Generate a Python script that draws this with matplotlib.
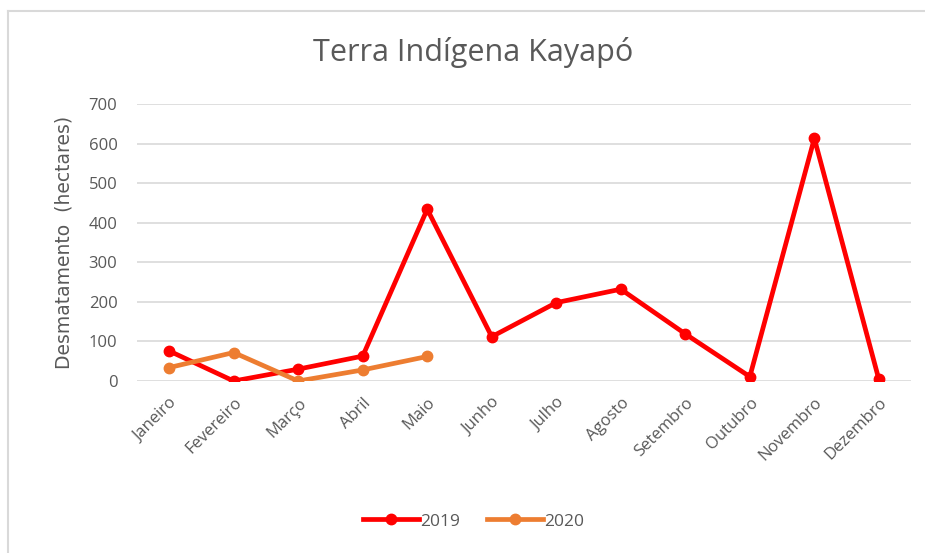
import matplotlib.pyplot as plt
from matplotlib.lines import Line2D

meses = ['Janeiro', 'Fevereiro', 'Março', 'Abril', 'Maio', 'Junho', 'Julho',
         'Agosto', 'Setembro', 'Outubro', 'Novembro', 'Dezembro']
valores_2019 = [76, 0, 30, 63, 434, 112, 198, 232, 119, 11, 613, 4]
valores_2020 = [34, 72, 0, 28, 62]

cinza = '#595959'
plt.rcParams['font.family'] = ['Open Sans', 'DejaVu Sans']

fig = plt.figure(figsize=(9.25, 5.53), dpi=100)
ax = fig.add_axes([0.148, 0.311, 0.837, 0.501])

x19 = list(range(len(valores_2019)))
x20 = list(range(len(valores_2020)))
ax.plot(x19, valores_2019, color='#FF0000', lw=3.4, marker='o', ms=7.5,
        label='2019', solid_joinstyle='round', zorder=3)
ax.plot(x20, valores_2020, color='#ED7D31', lw=3.4, marker='o', ms=7.5,
        label='2020', solid_joinstyle='round', zorder=4)

ax.set_xlim(-0.5, len(meses) - 0.5)
ax.set_ylim(0, 700)
ax.set_yticks(range(0, 701, 100))
ax.set_xticks(x19)
ax.set_xticklabels(meses, rotation=45, ha='right', rotation_mode='anchor')
ax.tick_params(axis='both', length=0, colors=cinza, labelsize=12)
ax.tick_params(axis='x', pad=10)
ax.tick_params(axis='y', pad=14)
ax.grid(axis='y', color='#D9D9D9', lw=1.2)
ax.set_axisbelow(True)
for s in ax.spines.values():
    s.set_visible(False)

ax.set_ylabel('Desmatamento  (hectares)', color=cinza, fontsize=13.5, labelpad=11,
              family='DejaVu Sans')
fig.text(0.511, 0.905, 'Terra Indígena Kayapó', ha='center', va='center',
         fontsize=22, color=cinza)

leg = fig.legend(loc='center', bbox_to_anchor=(0.512, 0.057), ncol=2, frameon=False,
                 fontsize=12.5, handlelength=3.2, columnspacing=1.6, handletextpad=0.05)
for t in leg.get_texts():
    t.set_color(cinza)

# borda do gráfico
fig.add_artist(Line2D([0.0085, 0.0085], [0, 1 - 11 / 553], color='#D9D9D9', lw=1.5))
fig.add_artist(Line2D([0.0085, 1], [1 - 11 / 553, 1 - 11 / 553], color='#D9D9D9', lw=1.5))

fig.savefig('out.png', dpi=100)
